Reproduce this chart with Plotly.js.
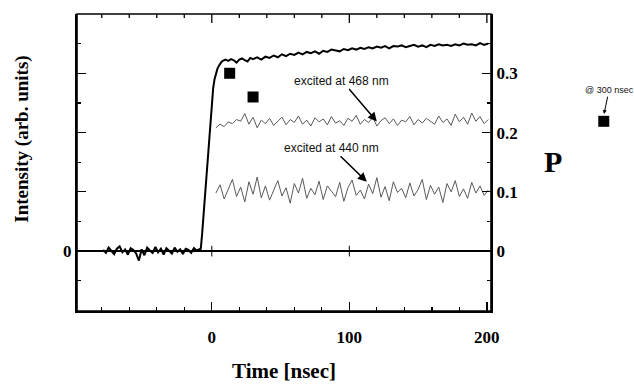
<!DOCTYPE html>
<html>
<head>
<meta charset="utf-8">
<script src="https://cdn.plot.ly/plotly-3.0.1.min.js"></script>
<style>html,body{margin:0;padding:0;background:#fff;}#chart{width:634px;height:384px;}</style>
</head>
<body>
<div id="chart"></div>
<script>
// Total intensity (plotted on the P scale, arbitrary units)
var tInt = [-79,-77,-75,-73,-71,-69,-67,-65,-63,-61,-59,-57,-55,-53,-51,-49,-47,-45,-43,-41,-39,-37,-35,-33,-31,-29,-27,-25,-23,-21,-19,-17,-15,-13,-11,-9,
  -8,-7,-6,-5,-4,-3,-2,-1,0,1,2,3,4,5,6,7,8,
  10,12,14,16,18,20,22,24,26,28,30,33,36,39,42,45,48,51,54,57,60,63,66,69,72,75,78,81,84,87,90,93,96,99,102,105,108,111,114,117,120,123,126,129,132,135,138,141,144,147,150,153,156,159,162,165,168,171,174,177,180,183,186,189,192,195,198,201];
var intensity = [0.002,-0.003,0.006,0.001,-0.005,0.004,0.008,-0.002,0.003,-0.006,0.005,0.002,-0.004,-0.016,0.003,-0.007,0.006,0.001,-0.003,0.007,-0.002,0.004,-0.006,0.005,0.001,-0.004,0.006,-0.001,0.003,-0.005,0.004,0.002,-0.003,0.005,0.001,0.003,
  0.004,0.03,0.06,0.09,0.12,0.155,0.19,0.225,0.255,0.275,0.29,0.3,0.307,0.312,0.316,0.319,0.321,
  0.323,0.321,0.324,0.322,0.318,0.323,0.325,0.322,0.320,0.326,0.324,0.327,0.323,0.328,0.326,0.330,0.327,0.332,0.329,0.333,0.331,0.335,0.332,0.336,0.334,0.337,0.333,0.338,0.336,0.340,0.338,0.337,0.341,0.339,0.342,0.340,0.343,0.341,0.344,0.342,0.345,0.343,0.346,0.342,0.346,0.345,0.347,0.344,0.346,0.348,0.345,0.347,0.344,0.348,0.346,0.349,0.347,0.348,0.346,0.349,0.347,0.350,0.348,0.349,0.347,0.351,0.348,0.350];

// Polarization traces
var tPol = [3,6,9,12,15,18,21,24,27,30,33,36,39,42,45,48,51,54,57,60,63,66,69,72,75,78,81,84,87,90,93,96,99,102,105,108,111,114,117,120,123,126,129,132,135,138,141,144,147,150,153,156,159,162,165,168,171,174,177,180,183,186,189,192,195,198,201];
var p468 = [0.208,0.214,0.210,0.218,0.215,0.222,0.219,0.232,0.214,0.226,
  0.208,0.221,0.215,0.224,0.212,0.219,0.226,0.213,0.222,0.217,
  0.228,0.214,0.221,0.211,0.225,0.218,0.223,0.213,0.227,0.216,
  0.220,0.212,0.224,0.219,0.229,0.214,0.222,0.217,0.226,0.211,
  0.220,0.225,0.215,0.223,0.212,0.221,0.218,0.227,0.213,0.222,
  0.216,0.224,0.219,0.214,0.228,0.217,0.223,0.212,0.231,0.218,
  0.226,0.214,0.233,0.219,0.227,0.215,0.222];
var p440 = [0.098,0.112,0.088,0.105,0.121,0.092,0.108,0.083,0.117,0.096,
  0.125,0.090,0.110,0.086,0.102,0.119,0.093,0.107,0.081,0.114,
  0.098,0.123,0.089,0.106,0.095,0.118,0.087,0.110,0.101,0.092,
  0.116,0.084,0.107,0.120,0.094,0.103,0.088,0.113,0.097,0.124,
  0.091,0.109,0.085,0.117,0.099,0.106,0.090,0.115,0.093,0.104,
  0.121,0.087,0.111,0.096,0.108,0.082,0.114,0.100,0.119,0.092,
  0.105,0.089,0.116,0.098,0.110,0.094,0.103];

// P values marked by squares (the last one is the 300 nsec point drawn beside the frame)
var sqT = [13, 30];
var sqP = [0.30, 0.26];
var sq300T = [285];
var sq300P = [0.219];

var xTickVals = [0, 100, 200];
var xTickText = ['0', '100', '200'];
var xMinorVals = [-80, -60, -40, -20, 20, 40, 60, 80, 120, 140, 160, 180];
var yLeftVals = [-0.1, 0, 0.1, 0.2, 0.3];
var yLeftText = ['', '0', '', '', ''];
var yRightVals = [0, 0.1, 0.2, 0.3];
var yRightText = ['0', '0.1', '0.2', '0.3'];

var serif = 'Liberation Serif, Times New Roman, serif';
var sans = 'Liberation Sans, Arial, sans-serif';
var tickFont = {family: serif, size: 17, color: '#000', weight: 700};
var xRange = [-98, 203];
var yRange = [-0.101, 0.400];

// layout geometry
var W = 634, H = 384, ML = 77, MR = 10, MT = 14, MB = 73, frameW = 414;
var paperW = W - ML - MR, plotH = H - MT - MB;
var xDomEnd = frameW / paperW;
// extended axis with the same scale as the main time axis, spanning the whole paper width
var xExtRange = [xRange[0], xRange[0] + (xRange[1] - xRange[0]) / xDomEnd];

var traces = [
  {x: tPol, y: p440, mode: 'lines', line: {color: '#5a5a5a', width: 1}, hoverinfo: 'skip'},
  {x: tPol, y: p468, mode: 'lines', line: {color: '#5a5a5a', width: 1}, hoverinfo: 'skip'},
  {x: tInt, y: intensity, mode: 'lines', line: {color: '#000', width: 2}, hoverinfo: 'skip'},
  {x: sqT, y: sqP, mode: 'markers', marker: {symbol: 'square', size: 11, color: '#000'}, hoverinfo: 'skip'},
  {x: sq300T, y: sq300P, xaxis: 'x3', yaxis: 'y3', mode: 'markers', marker: {symbol: 'square', size: 11, color: '#000'}, hoverinfo: 'skip'},
  {x: [null], y: [null], yaxis: 'y2', mode: 'lines', hoverinfo: 'skip'}
];

// small marks where the time ticks cross the zero line
var shapes = xTickVals.slice(0, 2).map(function (v) {
  return {type: 'line', xref: 'x', yref: 'y', x0: v, x1: v, y0: -0.009, y1: 0.009,
          line: {color: '#000', width: 1}};
});
// frame
shapes.push({type: 'rect', xref: 'x domain', yref: 'y domain', x0: 0, x1: 1, y0: 0, y1: 1,
             line: {color: '#000', width: 1.6}, layer: 'above'});
// mirrored time ticks along the top edge
function topTick(v, len) {
  return {type: 'line', xref: 'x', yref: 'y domain', x0: v, x1: v, y0: 1, y1: 1 - len / plotH,
          line: {color: '#000', width: 1.3}, layer: 'above'};
}
xTickVals.forEach(function (v) { shapes.push(topTick(v, 9)); });
xMinorVals.forEach(function (v) { shapes.push(topTick(v, 4)); });

function tickSet(extra) {
  var o = {
    ticks: 'inside', ticklen: 9, tickwidth: 1.3, tickcolor: '#000',
    showline: true, linewidth: 2, linecolor: '#000', showgrid: false, zeroline: false,
    tickfont: tickFont
  };
  for (var k in extra) o[k] = extra[k];
  return o;
}
var xMinor = {tickvals: xMinorVals, ticks: 'inside', ticklen: 4, tickwidth: 1.3, tickcolor: '#000'};
var yMinor = {dtick: 0.05, tick0: 0, ticks: 'inside', ticklen: 4, tickwidth: 1.3, tickcolor: '#000'};

var layout = {
  width: W, height: H,
  margin: {l: ML, r: MR, t: MT, b: MB},
  paper_bgcolor: '#fff', plot_bgcolor: 'rgba(0,0,0,0)',
  showlegend: false,
  xaxis: tickSet({
    domain: [0, xDomEnd], anchor: 'y',
    range: xRange, tickvals: xTickVals, ticktext: xTickText, ticklabelstandoff: 10,
    minor: xMinor
  }),
  xaxis3: {domain: [0, 1], range: xExtRange, anchor: 'y3', visible: false, fixedrange: true},
  yaxis3: {domain: [0, 1], range: yRange, anchor: 'x3', visible: false, fixedrange: true},
  yaxis: tickSet({
    range: yRange, tickvals: yLeftVals, ticktext: yLeftText, anchor: 'x',
    minor: yMinor,
    zeroline: true, zerolinecolor: '#000', zerolinewidth: 1.5
  }),
  yaxis2: tickSet({
    overlaying: 'y', side: 'right', range: yRange, anchor: 'x',
    tickvals: yRightVals, ticktext: yRightText,
    minor: yMinor
  }),
  shapes: shapes,
  annotations: [
    {text: 'excited at 468 nm', x: 120, y: 0.2186, xref: 'x', yref: 'y',
     ax: -35, ay: -41, showarrow: true, arrowhead: 2, arrowsize: 1.2, arrowwidth: 1.5,
     arrowcolor: '#000', font: {family: sans, size: 12, color: '#111'}},
    {text: 'excited at 440 nm', x: 112.7, y: 0.117, xref: 'x', yref: 'y',
     ax: -35, ay: -34, showarrow: true, arrowhead: 2, arrowsize: 1.2, arrowwidth: 1.5,
     arrowcolor: '#000', font: {family: sans, size: 12, color: '#111'}},
    {text: '@ 300 nsec', x: 1.273, y: 0.663, xref: 'x domain', yref: 'y domain',
     ax: 5, ay: -24, showarrow: true, arrowhead: 2, arrowsize: 0.8, arrowwidth: 1,
     arrowcolor: '#000', font: {family: sans, size: 9, color: '#111'}},
    {text: 'P', x: 1.15, y: 0.503, xref: 'x domain', yref: 'y domain', showarrow: false,
     xanchor: 'center', yanchor: 'middle', font: {family: serif, size: 30, color: '#000', weight: 700}},
    {text: 'Intensity (arb. units)', x: -0.133, y: 0.58, xref: 'x domain', yref: 'y domain',
     showarrow: false, textangle: -90, xanchor: 'center', yanchor: 'middle',
     font: {family: serif, size: 19, color: '#000', weight: 700}},
    {text: 'Time [nsec]', x: 0.5, y: -0.203, xref: 'x domain', yref: 'y domain',
     showarrow: false, xanchor: 'center', yanchor: 'middle',
     font: {family: serif, size: 21, color: '#000', weight: 700}}
  ]
};

Plotly.newPlot('chart', traces, layout, {displayModeBar: false, staticPlot: true});
</script>
</body>
</html>
